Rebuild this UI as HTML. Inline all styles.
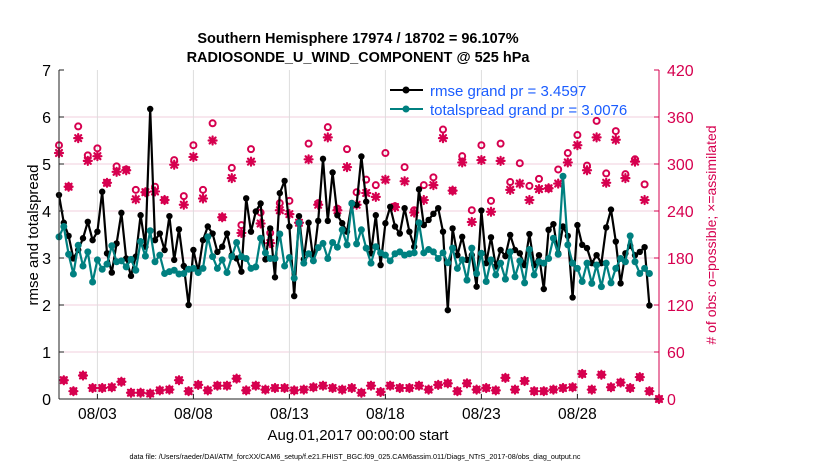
<!DOCTYPE html>
<html><head><meta charset="utf-8"><style>
html,body{margin:0;padding:0;background:#fff;}
svg text{font-family:"Liberation Sans",Arial,sans-serif;}
</style></head><body>
<svg id="chart" width="830" height="470" viewBox="0 0 830 470" xmlns="http://www.w3.org/2000/svg">
<g id="grid"></g>
<g id="series"></g>
<g id="axes"></g>
<text x="358" y="43" text-anchor="middle" font-size="14.5" font-weight="bold">Southern Hemisphere 17974 / 18702 = 96.107%</text>
<text x="358" y="62" text-anchor="middle" font-size="14.5" font-weight="bold">RADIOSONDE_U_WIND_COMPONENT @ 525 hPa</text>
<text transform="translate(38,235) rotate(-90)" text-anchor="middle" font-size="15">rmse and totalspread</text>
<text transform="translate(716,235) rotate(-90)" text-anchor="middle" font-size="14" fill="#d6004f"># of obs: o=possible; ×=assimilated</text>
<text x="358" y="440" text-anchor="middle" font-size="15">Aug.01,2017 00:00:00 start</text>
<text x="355" y="459" text-anchor="middle" font-size="7.2">data file: /Users/raeder/DAI/ATM_forcXX/CAM6_setup/f.e21.FHIST_BGC.f09_025.CAM6assim.011/Diags_NTrS_2017-08/obs_diag_output.nc</text>
<g>
  <line x1="390" y1="90" x2="423" y2="90" stroke="#000" stroke-width="2"/>
  <circle cx="406" cy="90" r="3.5" fill="#000"/>
  <text x="430" y="96" font-size="15" fill="#1a5cff">rmse grand pr = 3.4597</text>
  <line x1="390" y1="109" x2="423" y2="109" stroke="#008080" stroke-width="2"/>
  <circle cx="406" cy="109" r="3.5" fill="#008080"/>
  <text x="430" y="115" font-size="15" fill="#1a5cff">totalspread grand pr = 3.0076</text>
</g>
</svg>
<script>
const rmse = [4.34,3.75,3.47,2.99,3.17,3.42,3.77,3.38,3.56,4.41,3.10,2.69,3.31,3.96,2.99,2.62,3.03,3.91,3.24,6.17,3.38,3.52,3.17,3.89,2.96,3.61,2.83,2.00,3.17,2.71,3.38,3.67,3.52,3.13,3.24,3.52,3.06,2.99,2.71,4.27,3.56,3.99,4.16,
2.97,3.63,2.59,4.38,4.64,3.67,2.19,3.89,2.97,3.75,2.94,3.79,5.11,3.79,4.82,3.91,3.74,3.56,4.17,4.13,5.16,4.20,3.10,3.91,2.85,3.74,4.09,3.67,3.52,4.06,3.56,3.24,4.46,3.70,3.81,3.94,4.06,3.56,1.89,
3.63,3.06,3.45,2.96,3.06,2.39,4.01,2.89,3.44,2.82,3.17,3.04,3.49,3.17,3.10,2.85,3.51,2.85,3.06,2.34,3.60,3.72,3.10,3.67,3.47,2.16,3.70,3.28,3.21,2.89,3.06,2.89,3.65,4.03,3.35,2.46,3.10,3.26,3.06,3.13,3.23,1.99];
const spread = [3.45,3.67,3.08,2.66,3.27,2.83,3.13,2.49,2.96,2.76,2.87,3.26,2.92,2.94,2.81,2.97,2.74,3.35,3.04,3.58,2.92,3.06,2.67,2.71,2.74,2.66,2.67,2.76,2.78,2.69,2.78,3.45,3.03,2.78,2.96,2.69,3.03,3.33,3.03,2.99,2.78,2.81,3.42,
3.11,2.99,2.99,3.51,2.83,3.01,2.57,3.75,2.89,3.09,2.94,3.22,3.31,2.99,3.33,3.23,3.60,3.28,4.16,3.30,3.60,3.21,2.89,3.24,3.11,3.06,2.94,3.09,3.13,3.06,3.09,3.11,3.75,3.11,3.18,3.13,2.99,3.11,2.90,
3.21,2.78,2.96,2.53,3.21,2.67,3.10,2.50,2.96,2.64,2.89,2.55,3.13,2.60,2.94,2.47,3.18,2.64,2.92,2.89,2.99,3.42,3.08,4.74,3.28,2.89,2.78,2.50,2.89,2.46,2.85,2.39,2.89,2.47,2.78,2.99,2.92,3.47,2.92,2.67,2.78,2.67];
// counts at 00Z/12Z (every 12 h, even 6-h index)
const highPossible = [324,271,348,311,320,276,297,293,267,264,271,254,305,259,324,267,352,232,295,222,319,
238,212,250,253,225,326,250,347,243,319,264,280,273,314,246,296,241,273,283,344,266,
310,241,324,253,326,277,301,272,281,269,293,314,337,298,355,288,342,287,306,274];
const highAssim = [314,271,333,304,310,276,290,292,255,264,265,254,299,248,309,256,330,232,282,212,303,
224,199,241,236,225,306,248,334,241,296,248,263,258,280,245,278,238,254,273,333,266,
302,226,305,239,304,267,275,254,268,269,275,302,324,292,334,276,331,282,303,254];
// counts at 06Z/18Z (odd 6-h index), possible == assimilated
const lowCount = [24,10,30,14,14,15,22,8,8,7,11,12,24,10,18,11,17,17,26,11,17,12,14,14,11,12,15,17,14,12,14,
8,17,9,17,14,14,17,12,18,20,10,20,12,14,11,27,12,23,10,10,12,14,15,32,12,31,15,21,14,28,10,0];
const leftTicks = [0,1,2,3,4,5,6,7];
const rightTicks = [0,60,120,180,240,300,360,420];
const xTickDays = [2,7,12,17,22,27];
const xTickLabels = ["08/03","08/08","08/13","08/18","08/23","08/28"];

const X0=59, X1=659, Y0=399, Y1=70, DAYS=31.25, YMAX=7, CMAX=420;
const PINK="#d6004f";
function xs(day){return X0+(day/DAYS)*(X1-X0);}
function ys(v){return Y0-(v/YMAX)*(Y0-Y1);}
function yc(c){return Y0-(c/CMAX)*(Y0-Y1);}
function dayOf(i){return i*0.25;}
const NS="http://www.w3.org/2000/svg";
function mk(tag,attrs,parent){const e=document.createElementNS(NS,tag);for(const k in attrs)e.setAttribute(k,attrs[k]);parent.appendChild(e);return e;}
const grid=document.getElementById('grid'), series=document.getElementById('series'), axes=document.getElementById('axes');

leftTicks.forEach((v,k)=>{
  if(v>0&&v<YMAX){const g=mk('line',{x1:X0,x2:X1,y1:ys(v),y2:ys(v),stroke:"#f0cfdc","stroke-width":1},grid);
  
  }
  const t=mk('line',{x1:X0,x2:X0+5,y1:ys(v),y2:ys(v),stroke:"#222","stroke-width":1},axes);
  
  
  const l=mk('text',{x:X0-8,y:ys(v)+6,"text-anchor":"end","font-size":"16"},axes);
  l.textContent=v;
  
  
});
rightTicks.forEach(c=>{
  const t=mk('line',{x1:X1-5,x2:X1,y1:yc(c),y2:yc(c),stroke:PINK,"stroke-width":1},axes);
  
  
  const l=mk('text',{x:X1+8,y:yc(c)+6,"font-size":"16",fill:PINK},axes);
  l.textContent=c;
  
  
});
xTickDays.forEach((d,k)=>{
  const g=mk('line',{x1:xs(d),x2:xs(d),y1:Y1,y2:Y0,stroke:"#dcdcdc","stroke-width":1},grid);
  
  
  const t=mk('line',{x1:xs(d),x2:xs(d),y1:Y0-5,y2:Y0,stroke:"#222","stroke-width":1},axes);
  
  
  const l=mk('text',{x:xs(d),y:Y0+20,"text-anchor":"middle","font-size":"15.5"},axes);
  l.textContent=xTickLabels[k];
  
  
});
const ax1=mk('line',{x1:X0,x2:X0,y1:Y1,y2:Y0,stroke:"#222","stroke-width":1},axes);


const ax2=mk('line',{x1:X0,x2:X1,y1:Y0,y2:Y0,stroke:"#222","stroke-width":1},axes);


const ax3=mk('line',{x1:X1,x2:X1,y1:Y1,y2:Y0,stroke:PINK,"stroke-width":1},axes);



function asterisk(cx,cy,parent,name){
  const g=mk('g',{stroke:PINK,"stroke-width":2.2,"stroke-linecap":"round"},parent);
  
  
  const r=4,d=3;
  mk('line',{x1:cx-r,x2:cx+r,y1:cy,y2:cy},g);
  mk('line',{x1:cx,x2:cx,y1:cy-r,y2:cy+r},g);
  mk('line',{x1:cx-d,x2:cx+d,y1:cy-d,y2:cy+d},g);
  mk('line',{x1:cx-d,x2:cx+d,y1:cy+d,y2:cy-d},g);
}
const obsG=mk('g',{},series);


highPossible.forEach((c,k)=>{
  const e=mk('circle',{cx:xs(dayOf(2*k)),cy:yc(c),r:3,fill:"none",stroke:PINK,"stroke-width":2},obsG);
  
  
});
highAssim.forEach((c,k)=>{asterisk(xs(dayOf(2*k)),yc(c),obsG,'obs-assimilated-point');});
lowCount.forEach((c,k)=>{
  const x=xs(dayOf(2*k+1)),y=yc(c);
  const e=mk('circle',{cx:x,cy:y,r:3,fill:"none",stroke:PINK,"stroke-width":2},obsG);
  
  
  asterisk(x,y,obsG,'obs-assimilated-point');
});

function drawLine(vals,color,name,r){
  const g=mk('g',{},series);
  
  
  const pts=vals.map((v,i)=>xs(dayOf(i)).toFixed(1)+','+ys(v).toFixed(1)).join(' ');
  const pl=mk('polyline',{points:pts,fill:"none",stroke:color,"stroke-width":2.2,"stroke-linejoin":"round"},g);
  
  
  vals.forEach((v,i)=>{
    const c=mk('circle',{cx:xs(dayOf(i)),cy:ys(v),r:r,fill:color},g);
    
    
  });
}
drawLine(rmse,"#000",'rmse',3.2);
drawLine(spread,"#008080",'totalspread',3.5);
</script>
</body></html>
